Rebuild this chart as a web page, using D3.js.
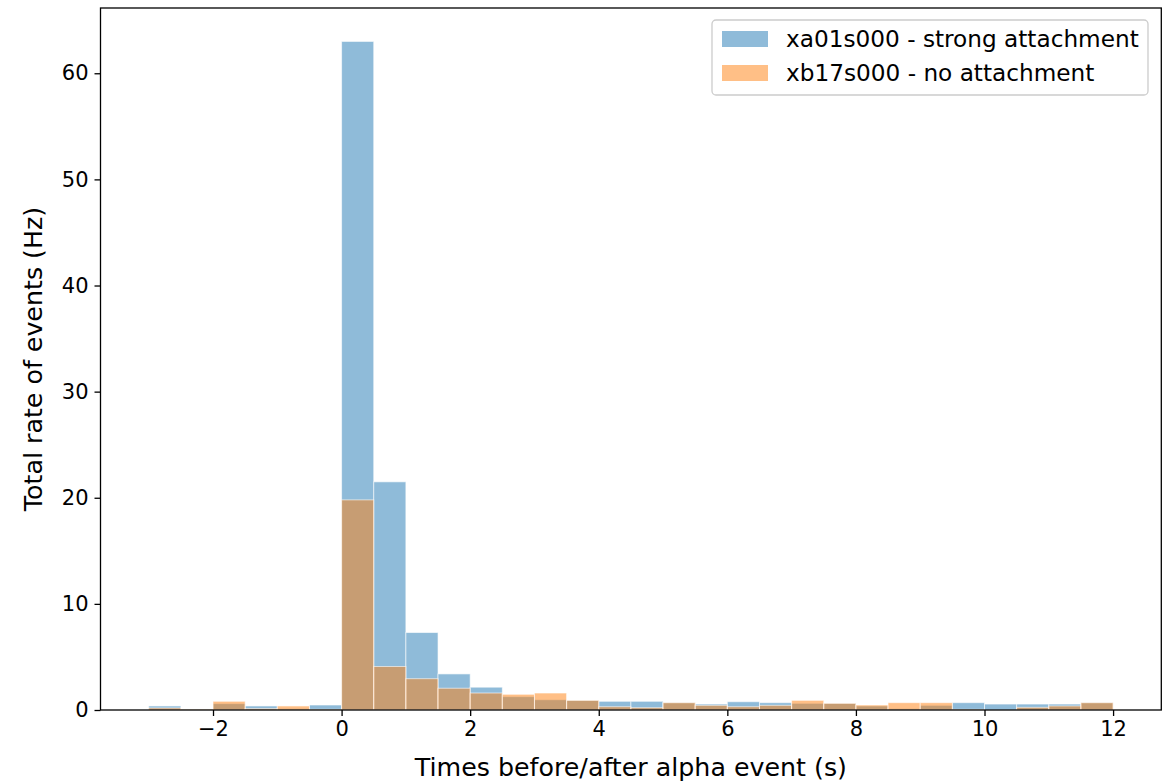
<!DOCTYPE html>
<html>
<head>
<meta charset="utf-8">
<script src="https://cdn.jsdelivr.net/npm/d3@7"></script>
<style>
	body { margin: 0; background: #fff; }
	text { font-family: "DejaVu Sans", sans-serif; fill: #000; }
</style>
</head>
<body>
<div id="chart"></div>
<script>
// bin left edges (bin width 0.5 s)
var binStarts = [-3, -2.5, -2, -1.5, -1, -0.5, 0, 0.5, 1, 1.5, 2, 2.5, 3, 3.5, 4, 4.5,
	5, 5.5, 6, 6.5, 7, 7.5, 8, 8.5, 9, 9.5, 10, 10.5, 11, 11.5];
var binWidth = 0.5;

var seriesNames = ['xa01s000 - strong attachment', 'xb17s000 - no attachment'];

var strongRates = [0.38, 0.07, 0.6, 0.38, 0.13, 0.47, 63.0, 21.5, 7.3, 3.4, 2.15, 1.26, 0.97, 0.91,
	0.82, 0.82, 0.69, 0.56, 0.78, 0.69, 0.63, 0.63, 0.38, 0.13, 0.44, 0.69, 0.56, 0.56, 0.56, 0.69];
var noneRates = [0.19, 0.07, 0.82, 0.13, 0.38, 0.06, 19.8, 4.1, 2.95, 2.05, 1.6, 1.48, 1.6, 0.91,
	0.31, 0.22, 0.69, 0.44, 0.31, 0.44, 0.91, 0.63, 0.47, 0.69, 0.69, 0.06, 0, 0.25, 0.38, 0.69];

var xTicks = [-2, 0, 2, 4, 6, 8, 10, 12];
var yTicks = [0, 10, 20, 30, 40, 50, 60];

var width = 1175,
	height = 783,
	margin = { left: 100.5, right: 13.7, top: 8, bottom: 73 };

var colors = ['#1f77b4', '#ff7f0e'];

var xMin = d3.min(binStarts), xMax = d3.max(binStarts) + binWidth;
var xPad = (xMax - xMin) * 0.05;
var yMax = d3.max(strongRates.concat(noneRates)) * 1.05;

var x = d3.scaleLinear()
	.domain([xMin - xPad, xMax + xPad])
	.range([margin.left, width - margin.right]);

var y = d3.scaleLinear()
	.domain([0, yMax])
	.range([height - margin.bottom, margin.top]);

var svg = d3.select('#chart').append('svg')
	.attr('width', width)
	.attr('height', height);

[strongRates, noneRates].forEach(function(vals, i) {
	svg.append('g')
		.selectAll('rect')
		.data(vals)
		.enter().append('rect')
		.attr('x', function(d, j) { return x(binStarts[j]); })
		.attr('width', function(d, j) { return x(binStarts[j] + binWidth) - x(binStarts[j]); })
		.attr('y', function(d) { return y(d); })
		.attr('height', function(d) { return y(0) - y(d); })
		.style('fill', colors[i])
		.style('fill-opacity', 0.5)
		.style('stroke', '#fff')
		.style('stroke-opacity', 0.6)
		.style('stroke-width', 1);
});

// axes
var xAxis = svg.append('g')
	.attr('transform', 'translate(0,' + (height - margin.bottom) + ')')
	.call(d3.axisBottom(x).tickValues(xTicks).tickSize(6).tickPadding(5)
		.tickFormat(function(d) { return d < 0 ? '\u2212' + Math.abs(d) : d; }));

var yAxis = svg.append('g')
	.attr('transform', 'translate(' + margin.left + ',0)')
	.call(d3.axisLeft(y).tickValues(yTicks).tickSize(6).tickPadding(6));

[xAxis, yAxis].forEach(function(a) {
	a.select('.domain').remove();
	a.selectAll('.tick line').attr('stroke', '#000').attr('stroke-width', 1.3);
	a.selectAll('.tick text').style('font-size', '21px').attr('fill', '#000');
});

// frame
svg.append('rect')
	.attr('x', margin.left)
	.attr('y', margin.top)
	.attr('width', width - margin.right - margin.left)
	.attr('height', height - margin.bottom - margin.top)
	.style('fill', 'none')
	.style('stroke', '#000')
	.style('stroke-width', 1.3);

svg.append('text')
	.attr('x', (x.range()[0] + x.range()[1]) / 2)
	.attr('y', 776)
	.attr('text-anchor', 'middle')
	.style('font-size', '25.3px')
	.text('Times before/after alpha event (s)');

svg.append('text')
	.attr('transform', 'translate(42,' + (y.range()[0] + y.range()[1]) / 2 + ') rotate(-90)')
	.attr('text-anchor', 'middle')
	.style('font-size', '25.3px')
	.text('Total rate of events (Hz)');

// legend
var legend = svg.append('g')
	.attr('transform', 'translate(712,20)');

legend.append('rect')
	.attr('width', 436)
	.attr('height', 75)
	.attr('rx', 4)
	.style('fill', '#fff')
	.style('fill-opacity', 0.8)
	.style('stroke', '#ccc')
	.style('stroke-width', 1.3);

var item = legend.selectAll('.item')
	.data(seriesNames)
	.enter().append('g')
	.attr('class', 'item')
	.attr('transform', function(d, i) { return 'translate(10,' + (11 + i * 34) + ')'; });

item.append('rect')
	.attr('width', 46)
	.attr('height', 16)
	.style('fill', function(d, i) { return colors[i]; })
	.style('fill-opacity', 0.5);

item.append('text')
	.attr('x', 64)
	.attr('y', 8)
	.attr('dy', '.35em')
	.style('font-size', '23.2px')
	.text(function(d) { return d; });
</script>
</body>
</html>
